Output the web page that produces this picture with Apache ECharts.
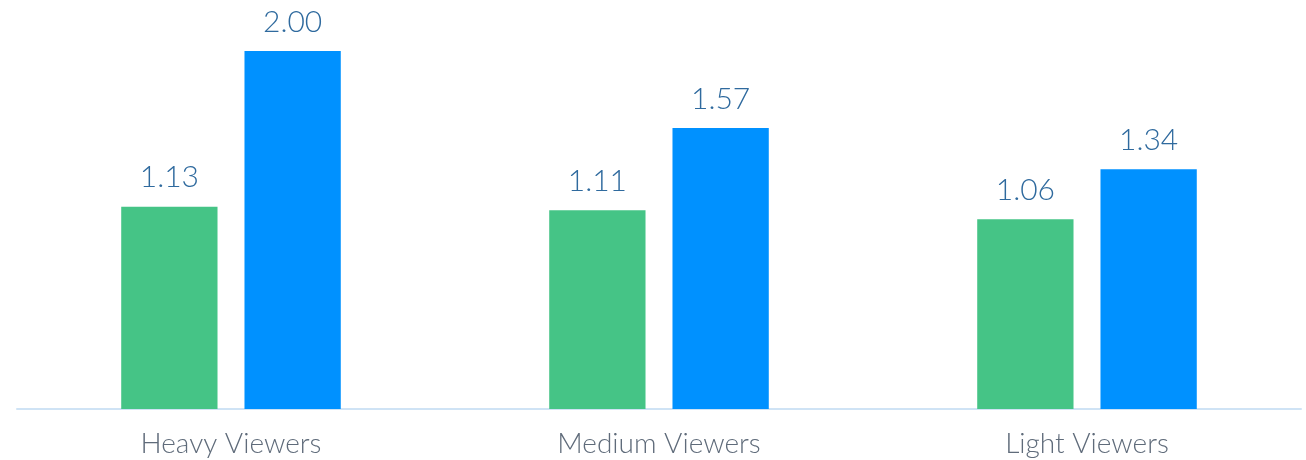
<!DOCTYPE html>
<html>
<head>
<meta charset="utf-8">
<script src="https://cdn.jsdelivr.net/npm/echarts@6/dist/echarts.min.js"></script>
<style>
  html, body { margin: 0; padding: 0; background: #ffffff; }
  #chart { width: 1306px; height: 460px; }
</style>
</head>
<body>
<div id="chart"></div>
<script>
// Viewer segments and the two indexed values shown for each
const categories = ['Heavy Viewers', 'Medium Viewers', 'Light Viewers'];
const greenValues = [1.13, 1.11, 1.06];
const blueValues = [2.00, 1.57, 1.34];

const labelStyle = {
  show: true,
  position: 'top',
  distance: 14,
  color: '#2f6a9e',
  fontFamily: 'Lato, "Open Sans", sans-serif',
  fontWeight: 300,
  fontSize: 30,
  formatter: p => p.value.toFixed(2)
};

const chart = echarts.init(document.getElementById('chart'), null, { renderer: 'canvas' });
chart.setOption({
  animation: false,
  grid: { left: 17, right: 5, top: 0, bottom: 51, containLabel: false },
  xAxis: {
    type: 'category',
    data: categories,
    axisLine: { show: true, lineStyle: { color: '#cfe3f5', width: 2 } },
    axisTick: { show: false },
    axisLabel: {
      color: '#5f6b7a',
      fontFamily: 'Lato, "Open Sans", sans-serif',
      fontWeight: 300,
      fontSize: 28,
      margin: 21
    }
  },
  yAxis: {
    type: 'value',
    min: 0,
    max: 2.285,
    show: false,
    splitLine: { show: false }
  },
  series: [
    {
      type: 'bar',
      data: greenValues,
      barWidth: '22.5%',
      barGap: '28%',
      itemStyle: { color: '#45c486' },
      label: labelStyle
    },
    {
      type: 'bar',
      data: blueValues,
      barWidth: '22.5%',
      barGap: '28%',
      itemStyle: { color: '#0091ff' },
      label: labelStyle
    }
  ]
});
</script>
</body>
</html>
